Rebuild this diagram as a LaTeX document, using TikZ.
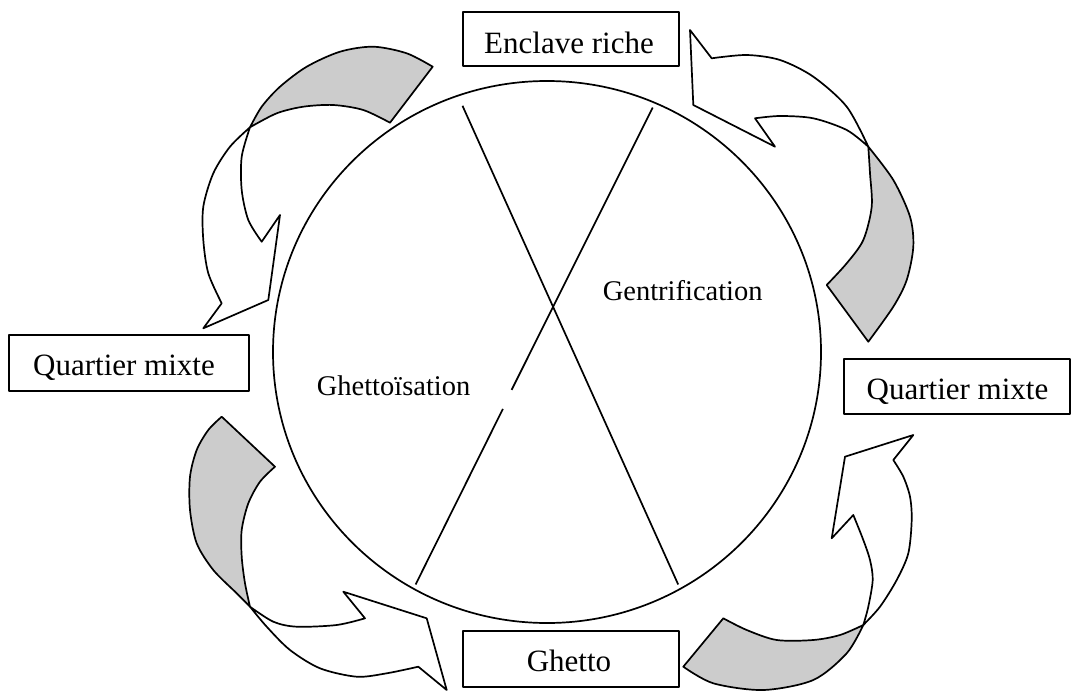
\documentclass[tikz,border=0pt]{standalone}
\usepackage{fontspec}
\setmainfont{Liberation Serif}
\begin{document}
\begin{tikzpicture}[x=1pt,y=-1pt,
  line width=1.7pt, line join=round,
  box/.style={draw, line width=1.7pt, inner sep=0pt, rectangle},
  boxtext/.style={anchor=base, inner sep=0pt, font=\fontsize{31}{36}\selectfont},
  intext/.style={anchor=base, inner sep=0pt, font=\fontsize{28.5}{34}\selectfont},
  shadeface/.style={draw, fill=black!20},
  frontface/.style={draw, fill=white}]
\useasboundingbox (0,0) rectangle (1075,693);

% central circle and dividing lines
\draw (547,352) ellipse [x radius=274, y radius=271];
\coordinate (l1a) at (462.5,105.8);
\coordinate (l1b) at (678.2,584.5);
\coordinate (l2a) at (652.7,107.5);
\coordinate (l2b) at (511.6,389.9);
\coordinate (l2c) at (502.9,408.9);
\coordinate (l2d) at (415.6,584.5);
\draw (l1a) -- (l1b);
\draw (l2a) -- (l2b);
\draw (l2c) -- (l2d);

% inner labels
\node[intext] (gentri) at (682.7,300.4) {Gentrification};
\node[intext] (ghettois) at (393.6,395) {Ghettoïsation};

% boxes
\node[box, minimum width=216pt, minimum height=54pt] (enclave) at (571,39) {};
\node[boxtext] (enclavet) at (569,53.3) {Enclave riche};
\node[box, minimum width=240pt, minimum height=56pt] (qmleft) at (129,363) {};
\node[boxtext] (qmleftt) at (124,375) {Quartier mixte};
\node[box, minimum width=226pt, minimum height=55pt] (qmright) at (957,386.5) {};
\node[boxtext] (qmrightt) at (957.5,399.3) {Quartier mixte};
\node[box, minimum width=216pt, minimum height=56pt] (ghetto) at (571,659) {};
\node[boxtext] (ghettot) at (569,671.7) {Ghetto};

% top-left curved arrow
\filldraw[shadeface] plot[smooth] coordinates {(250,127.3) (261.7,106.7) (280,86.7) (306.7,66.7) (340,51.7) (373.3,46.7) (406.7,53.3) (432.7,66.7)}
  -- (390,122.7)
  -- plot[smooth] coordinates {(390,122.7) (363.3,110) (333.3,105) (303.3,106.7) (276.7,113.3) (250,127.3)} -- cycle;
\filldraw[frontface] plot[smooth] coordinates {(250,127.3) (230,146.7) (213.3,173.3) (203.3,206.7) (203.3,240) (208.3,273.3) (221.7,303.3)}
  -- (203.3,328.3) -- (268.3,300) -- (280,215) -- (261.7,241.7)
  -- plot[smooth] coordinates {(261.7,241.7) (248.3,220) (241.7,190) (241.7,156.7) (250,127.3)} -- cycle;

% top-right curved arrow
\filldraw[shadeface] plot[smooth] coordinates {(868.3,146.7) (893.3,180) (910,216.7) (913.3,246.7) (906.7,280) (893.3,306.7) (868.3,341.7)}
  -- (826.7,285)
  -- plot[smooth] coordinates {(826.7,285) (846.7,263.3) (863.3,240) (871.7,206.7) (870,173.3) (868.3,146.7)} -- cycle;
\filldraw[frontface] (690,30) -- (711.7,58.3)
  -- plot[smooth] coordinates {(711.7,58.3) (746.7,55) (780,60) (813.3,76.7) (846.7,106.7) (868.3,146.7)}
  -- plot[smooth] coordinates {(868.3,146.7) (846.7,130) (813.3,118.3) (780,116) (755,118.3)}
  -- (775,146.7) -- (693.3,105) -- cycle;

% bottom-left curved arrow
\filldraw[shadeface] (221.7,416.7) -- (275,466.7)
  -- plot[smooth] coordinates {(275,466.7) (260,481.7) (248.3,503.3) (241.7,530) (241.7,556.7) (245,583.3) (250,606.7)}
  -- plot[smooth] coordinates {(250,606.7) (236.7,593.3) (213.3,570) (196.7,543.3) (190,510) (190,476.7) (196.7,450) (208.3,430) (221.7,416.7)} -- cycle;
\filldraw[frontface] plot[smooth] coordinates {(250,606.7) (273.3,621.7) (296.7,626.7) (336.7,625) (365,618.3)}
  -- (343.3,591.7) -- (426.7,618.3) -- (446.7,690) -- (418.3,666.7)
  -- plot[smooth] coordinates {(418.3,666.7) (386.7,673.3) (356.7,676.7) (320,668.3) (290,650) (266.7,626.7) (250,606.7)} -- cycle;

% bottom-right curved arrow
\filldraw[shadeface] plot[smooth] coordinates {(863.3,625) (840,635) (813.3,640) (776.7,640) (746.7,630) (723.3,618.3)}
  -- (683.3,666.7)
  -- plot[smooth] coordinates {(683.3,666.7) (713.3,683.3) (763.3,690) (813.3,680) (846.7,653.3) (863.3,625)} -- cycle;
\filldraw[frontface] (913.3,435) -- (893.3,460)
  -- plot[smooth] coordinates {(893.3,460) (903.3,476.7) (910,496.7) (911.7,520) (908.3,553.3) (896.7,580) (880,606.7) (863.3,625)}
  -- plot[smooth] coordinates {(863.3,625) (868.3,606.7) (872.7,580) (870,560) (863.3,540) (853.3,515)}
  -- (831.7,538.3) -- (845,456.7) -- cycle;
\end{tikzpicture}
\end{document}
